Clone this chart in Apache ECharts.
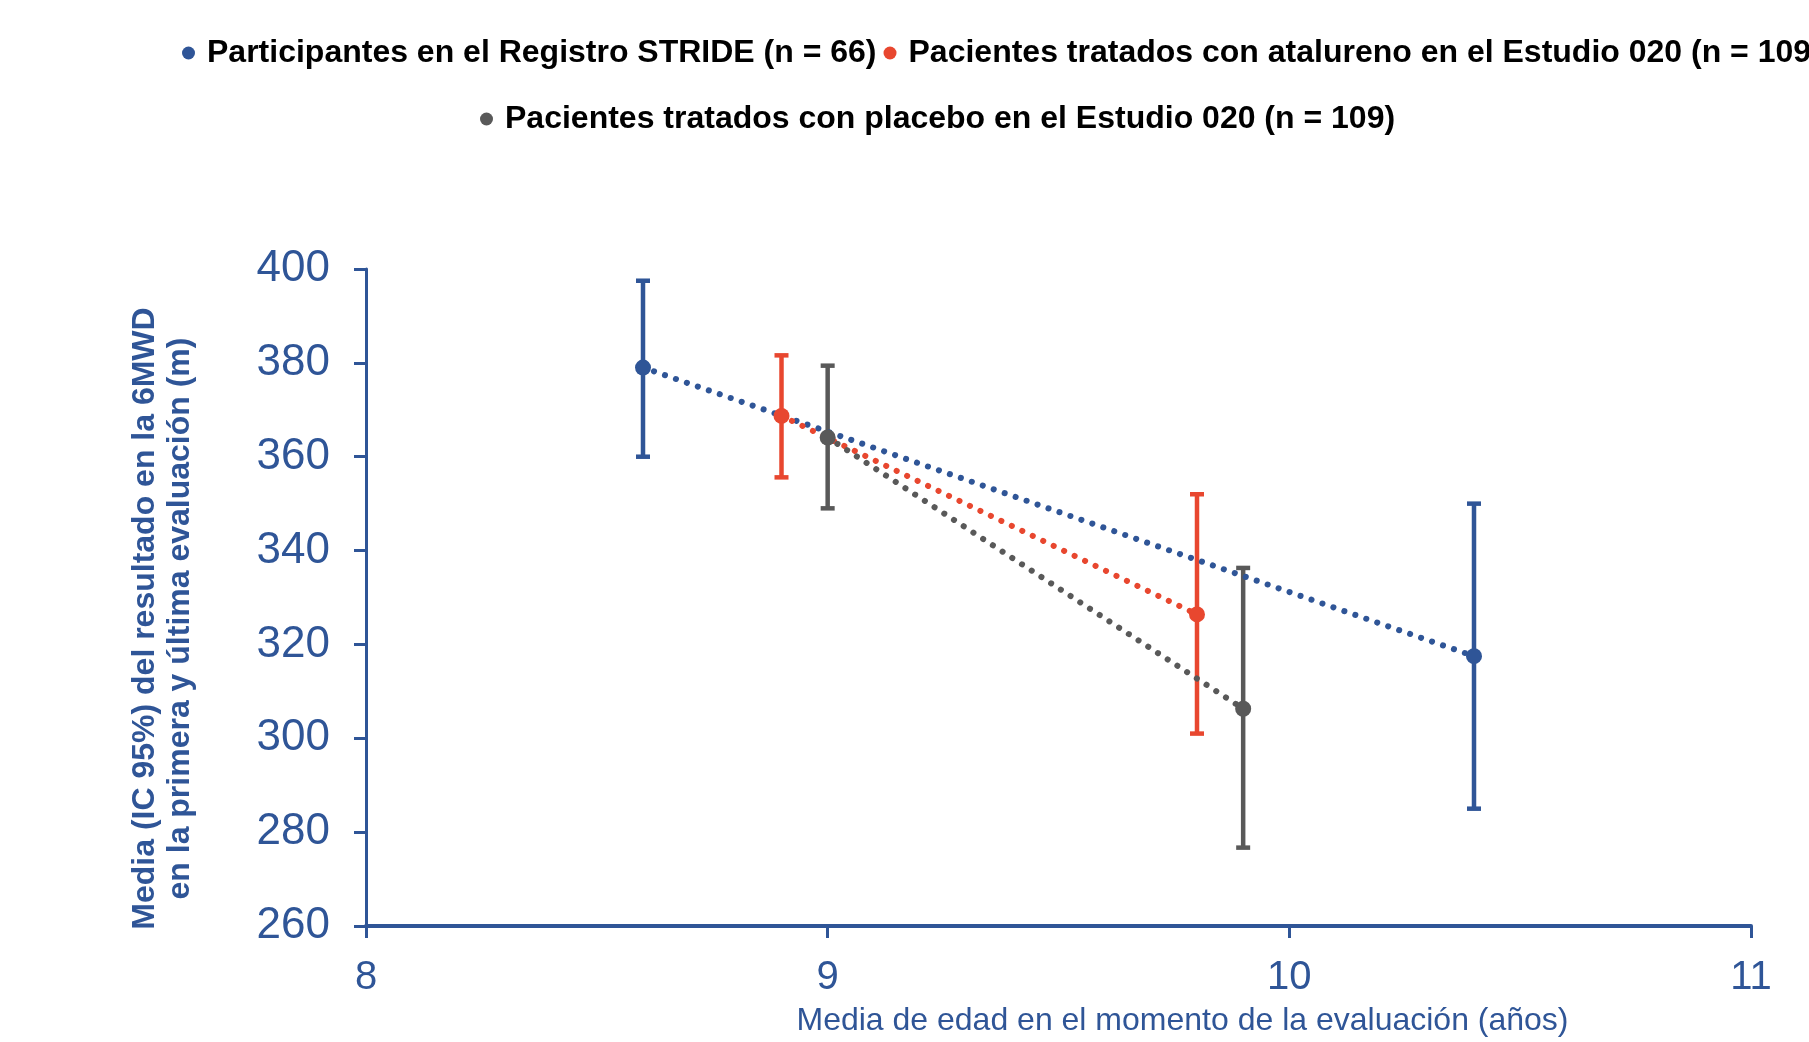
<!DOCTYPE html>
<html><head><meta charset="utf-8">
<script src="https://cdn.jsdelivr.net/npm/echarts@6/dist/echarts.min.js"></script>
<style>html,body{margin:0;padding:0;background:#fff}#c{width:1809px;height:1042px}</style>
</head><body><div id="c"></div>
<script>
// ---- data ----
const seriesNames = [
  'Participantes en el Registro STRIDE (n = 66)',
  'Pacientes tratados con atalureno en el Estudio 020 (n = 109)',
  'Pacientes tratados con placebo en el Estudio 020 (n = 109)'
];
const strideAge = [8.6, 10.4];
const strideMean = [379, 317.5];
const strideLow = [360, 285];
const strideHigh = [397.5, 350];

const atalurenoAge = [8.9, 9.8];
const atalurenoMean = [368.7, 326.4];
const atalurenoLow = [355.6, 301];
const atalurenoHigh = [381.6, 352];

const placeboAge = [9.0, 9.9];
const placeboMean = [364.1, 306.3];
const placeboLow = [349, 276.7];
const placeboHigh = [379.4, 336.3];

const xTicks = [8, 9, 10, 11];
const yTicks = [260, 280, 300, 320, 340, 360, 380, 400];

const xTitle = 'Media de edad en el momento de la evaluación (años)';
const yTitle = 'Media (IC 95%) del resultado en la 6MWD\nen la primera y última evaluación (m)';

// ---- styling ----
const BLUE = '#2F5597', RED = '#E8472F', GRAY = '#595959';
const FONT = '"Liberation Sans", Arial, sans-serif';

const zip = (a, b) => a.map((v, i) => [v, b[i]]);
const zip3 = (a, b, c) => a.map((v, i) => [v, b[i], c[i]]);

function errRender(color) {
  return function (params, api) {
    const x = api.value(0), lo = api.value(1), hi = api.value(2);
    const pLo = api.coord([x, lo]), pHi = api.coord([x, hi]);
    const hw = 7;
    const style = { stroke: color, lineWidth: 4.5, fill: null };
    return {
      type: 'group',
      children: [
        { type: 'line', shape: { x1: pLo[0], y1: pLo[1], x2: pHi[0], y2: pHi[1] }, style },
        { type: 'line', shape: { x1: pLo[0] - hw, y1: pLo[1], x2: pLo[0] + hw, y2: pLo[1] }, style },
        { type: 'line', shape: { x1: pHi[0] - hw, y1: pHi[1], x2: pHi[0] + hw, y2: pHi[1] }, style }
      ]
    };
  };
}

function lineSeries(name, color, xs, ys) {
  return {
    name, type: 'line', data: zip(xs, ys),
    symbol: 'circle', symbolSize: 16,
    itemStyle: { color },
    lineStyle: { color, width: 6, type: [0.1, 11.5], cap: 'round' },
    z: 3
  };
}
function errSeries(name, color, xs, lo, hi) {
  return {
    name, type: 'custom', data: zip3(xs, lo, hi),
    renderItem: errRender(color), z: 2, silent: true
  };
}

const legendText = { fontFamily: FONT, fontWeight: 'bold', fontSize: 32, color: '#000' };

const option = {
  animation: false,
  backgroundColor: '#fff',
  textStyle: { fontFamily: FONT },
  legend: [
    {
      data: [seriesNames[0], seriesNames[1]],
      left: 177, top: 32, width: 3000,
      icon: 'circle', itemWidth: 27, itemHeight: 13, itemGap: 7,
      textStyle: legendText
    },
    {
      data: [seriesNames[2]],
      left: 475, top: 98,
      icon: 'circle', itemWidth: 27, itemHeight: 13,
      textStyle: legendText
    }
  ],
  grid: { left: 366, right: 58, top: 269, bottom: 111, containLabel: false },
  xAxis: {
    type: 'value', min: xTicks[0], max: xTicks[xTicks.length - 1], interval: 1,
    name: xTitle, nameLocation: 'middle', nameGap: 79,
    nameTextStyle: { fontFamily: FONT, fontSize: 32, color: BLUE, padding: [0, 0, 0, 248] },
    axisLine: { show: true, onZero: false, lineStyle: { color: BLUE, width: 4 } },
    axisTick: { show: true, inside: false, length: 12, lineStyle: { color: BLUE, width: 3 } },
    axisLabel: { fontFamily: FONT, fontSize: 40, color: BLUE, margin: 32 },
    splitLine: { show: false }
  },
  yAxis: {
    type: 'value', min: yTicks[0], max: yTicks[yTicks.length - 1], interval: 20,
    name: yTitle, nameLocation: 'middle', nameGap: 168,
    nameTextStyle: { fontFamily: FONT, fontSize: 32, fontWeight: 'bold', color: BLUE, lineHeight: 35, padding: [0, 42, 0, 0] },
    axisLine: { show: true, onZero: false, lineStyle: { color: BLUE, width: 3 } },
    axisTick: { show: true, inside: false, length: 12, lineStyle: { color: BLUE, width: 3 } },
    axisLabel: { fontFamily: FONT, fontSize: 44, color: BLUE, margin: 36 },
    splitLine: { show: false }
  },
  series: [
    errSeries('err0', BLUE, strideAge, strideLow, strideHigh),
    errSeries('err1', RED, atalurenoAge, atalurenoLow, atalurenoHigh),
    errSeries('err2', GRAY, placeboAge, placeboLow, placeboHigh),
    lineSeries(seriesNames[0], BLUE, strideAge, strideMean),
    lineSeries(seriesNames[1], RED, atalurenoAge, atalurenoMean),
    lineSeries(seriesNames[2], GRAY, placeboAge, placeboMean)
  ]
};

const chart = echarts.init(document.getElementById('c'), null, { renderer: 'canvas' });
chart.setOption(option);
</script>
</body></html>
